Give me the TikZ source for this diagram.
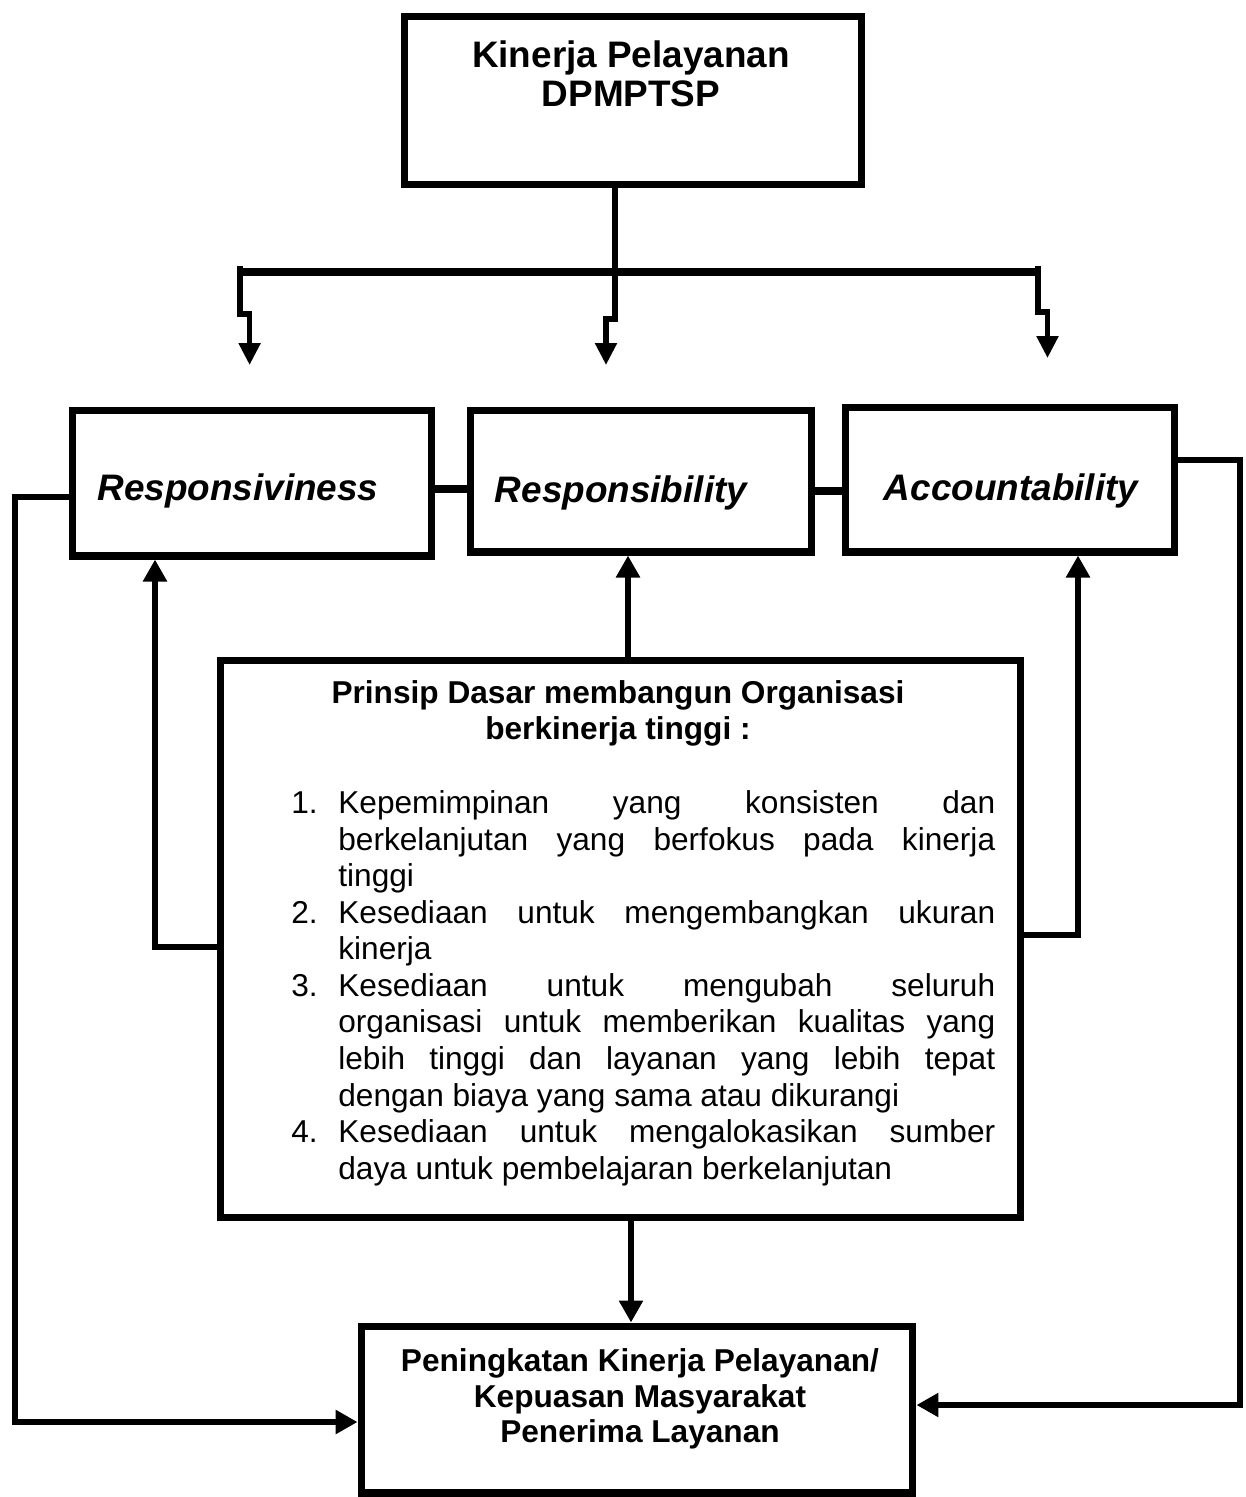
\documentclass[tikz,border=0pt]{standalone}
\usepackage{fontspec}
\setmainfont{Liberation Sans}
\usetikzlibrary{arrows.meta}

\begin{document}
\begin{tikzpicture}[x=0.02cm, y=-0.02cm,
		kotak/.style={draw, line width=4pt, inner sep=0pt},
		panah/.style={line width=3.6pt, -{Triangle[length=0.44cm, width=0.46cm]}},
		cabang/.style={line width=3pt, -{Triangle[length=0.44cm, width=0.42cm]}},
		judul/.style={font=\fontsize{21}{22.2}\selectfont\bfseries, align=center, inner sep=0pt},
		aspek/.style={font=\fontsize{21}{25}\selectfont\bfseries\itshape, inner sep=0pt},
		isi/.style={font=\fontsize{18}{20.8}\selectfont, inner sep=0pt},
		tebal/.style={font=\fontsize{18}{20.8}\selectfont\bfseries, align=center, inner sep=0pt}]
		\useasboundingbox (0,0) rectangle (1245,1497);

		\node[kotak, minimum width=9.16cm, minimum height=3.37cm] (kinerja) at (633,100.75) {};
		\node[judul, anchor=north] (kinerjateks) at (631,40.5) {Kinerja Pelayanan\\DPMPTSP};

		\node[kotak, minimum width=7.2cm, minimum height=2.92cm] (resp) at (252,483) {};
		\node[aspek, anchor=base] (respteks) at (238,500) {Responsiviness};
		\node[kotak, minimum width=6.84cm, minimum height=2.84cm] (respb) at (641,481) {};
		\node[aspek, anchor=base] (respbteks) at (621,502) {Responsibility};
		\node[kotak, minimum width=6.6cm, minimum height=2.9cm] (acc) at (1010,479.5) {};
		\node[aspek, anchor=base] (accteks) at (1011,500) {Accountability};

		\node[kotak, minimum width=16.02cm, minimum height=11.16cm] (prinsip) at (620.5,939) {};
		\node[tebal, anchor=north] (prinsipjudul) at (618,680) {Prinsip Dasar membangun Organisasi\\berkinerja tinggi :};
		\node[isi, text width=13.14cm, align=justify, anchor=north west] (prinsipteks) at (338,790.4) {%
			\hyphenpenalty=10000 \exhyphenpenalty=10000 \tolerance=10000 \parindent=0pt \parskip=0pt
			\leavevmode\llap{\makebox[0.94cm][l]{1.}}Kepemimpinan yang konsisten dan\linebreak berkelanjutan yang berfokus pada kinerja\linebreak tinggi\par
			\leavevmode\llap{\makebox[0.94cm][l]{2.}}Kesediaan untuk mengembangkan ukuran\linebreak kinerja\par
			\leavevmode\llap{\makebox[0.94cm][l]{3.}}Kesediaan untuk mengubah seluruh\linebreak organisasi untuk memberikan kualitas yang\linebreak lebih tinggi dan layanan yang lebih tepat\linebreak dengan biaya yang sama atau dikurangi\par
			\leavevmode\llap{\makebox[0.94cm][l]{4.}}Kesediaan untuk mengalokasikan sumber\linebreak daya untuk pembelajaran berkelanjutan\par};

		\node[kotak, minimum width=11.04cm, minimum height=3.34cm] (hasil) at (637,1409.5) {};
		\node[tebal, font=\fontsize{18}{20.2}\selectfont\bfseries, anchor=north] (hasilteks) at (640,1348.5) {Peningkatan Kinerja Pelayanan/\\Kepuasan Masyarakat\\Penerima Layanan};

		% cabang atas
		\coordinate (batang) at (615,272);
		\coordinate (ujungkiri) at (240,272);
		\coordinate (ujungkanan) at (1038,272);
		\coordinate (tujuanA) at (249.6,365);
		\coordinate (tujuanB) at (606,365);
		\coordinate (tujuanC) at (1047.5,358);
		\draw[line width=3.4pt] (kinerja.south -| batang) -- (batang);
		\draw[line width=4.4pt] (ujungkiri) -- (ujungkanan);
		\draw[cabang] ([yshift=0.12cm]ujungkiri) -- ++(0,48) -| (tujuanA);
		\draw[cabang] (batang) -- ++(0,47) -| (tujuanB);
		\draw[cabang] ([yshift=0.12cm]ujungkanan) -- ++(0,46) -| (tujuanC);

		% antar kotak
		\coordinate (sambung1) at (451,489);
		\coordinate (sambung2) at (828,491);
		\draw[line width=5pt] (resp.east |- sambung1) -- (respb.west |- sambung1);
		\draw[line width=5pt] (respb.east |- sambung2) -- (acc.west |- sambung2);

		% jalur luar
		\coordinate (kiriatas) at (15,497);
		\coordinate (kiribawah) at (15,1422);
		\coordinate (kananatas) at (1240,460);
		\coordinate (kananbawah) at (1240,1405);
		\draw[panah] (resp.west |- kiriatas) -- (kiriatas) -- (kiribawah) -- (hasil.west |- kiribawah);
		\draw[panah] (acc.east |- kananatas) -- (kananatas) -- (kananbawah) -- (hasil.east |- kananbawah);

		% dari prinsip
		\coordinate (umpankiri) at (155,947);
		\coordinate (umpankanan) at (1078,935);
		\coordinate (naik) at (628,600);
		\coordinate (turun) at (631,1270);
		\draw[panah] (prinsip.west |- umpankiri) -- (umpankiri) -- (resp.south -| umpankiri);
		\draw[panah] (prinsip.east |- umpankanan) -- (umpankanan) -- (acc.south -| umpankanan);
		\draw[panah] (prinsip.north -| naik) -- (respb.south -| naik);
		\draw[panah] (prinsip.south -| turun) -- (hasil.north -| turun);
	\end{tikzpicture}
\end{document}
